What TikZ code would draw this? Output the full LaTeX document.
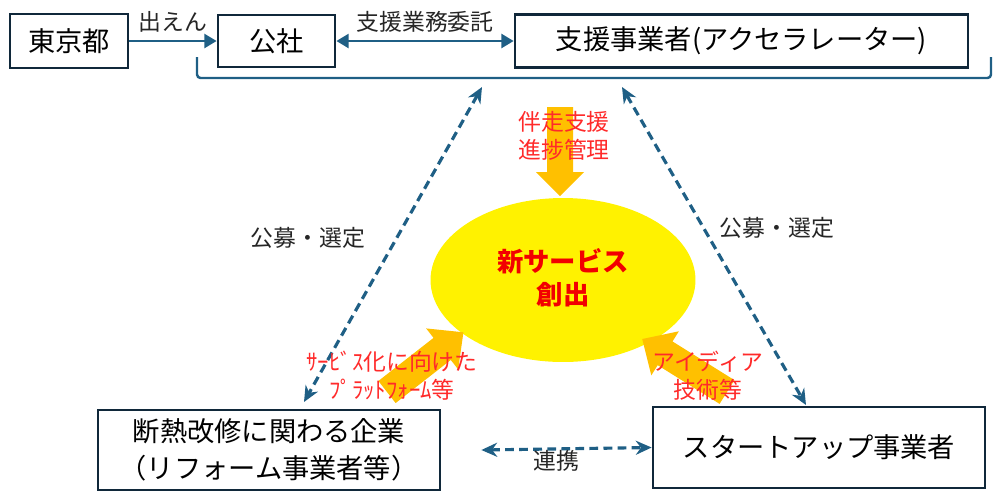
\documentclass[tikz,border=0pt]{standalone}
\usepackage{fontspec}
\setmainfont{Noto Sans CJK JP}
\usetikzlibrary{shapes.geometric,arrows.meta}
\definecolor{linkblue}{HTML}{1F5F85}
\definecolor{boxline}{HTML}{10283A}
\definecolor{pushorange}{HTML}{FFC000}
\definecolor{notered}{HTML}{FF2A2A}
\begin{document}
\begin{tikzpicture}[x=0.02cm,y=-0.02cm,
    party/.style={draw=boxline,line width=1.6pt,fill=white,align=center,inner sep=0pt,
      font=\fontsize{15.5}{21}\selectfont},
    flow/.style={draw=linkblue,line width=1.4pt,-{Triangle[length=7pt,width=8pt]}},
    twoway/.style={draw=linkblue,line width=1.4pt,{Triangle[length=7pt,width=8pt]}-{Triangle[length=7pt,width=8pt]}},
    tie/.style={draw=linkblue,line width=1.8pt,dash pattern=on 5pt off 3pt,
      {Stealth[length=9pt,width=8pt]}-{Stealth[length=9pt,width=8pt]}},
    note/.style={font=\fontsize{13}{16}\selectfont,text=black!85},
    rednote/.style={font=\fontsize{13}{16}\selectfont,text=notered,align=center},
    push/.style={fill=pushorange}]
\useasboundingbox (0,0) rectangle (1000,495);

% top row
\node[party,minimum width=2.36cm,minimum height=1.08cm] (tokyo) at (69,41) {東京都};
\node[party,minimum width=2.34cm,minimum height=1.04cm] (kosha) at (276.5,41) {公社};
\node[party,minimum width=9.06cm,minimum height=1.06cm] (accel) at (741.5,41) {支援事業者(アクセラレーター)};
\path[flow] (tokyo) -- node[note,above=1pt] {出えん} (kosha);
\path[twoway] (kosha) -- node[note,above=1pt] {支援業務委託} (accel);

% bracket under the top row
\coordinate (brl) at (197,57);
\coordinate (brr) at (991,57);
\draw[linkblue,line width=1.4pt,rounded corners=2pt] (brl) -- (197,78) -- (991,78) -- (brr);

% centre
\node[ellipse,fill=yellow,minimum width=5.3cm,minimum height=3.28cm] (core) at (563,280) {};
\node[font=\fontsize{15}{19}\selectfont\bfseries,text=red!95!black,align=center] (coretext) at (563,278) {新サービス\\創出};

% bottom row
\node[party,minimum width=6.84cm,minimum height=1.6cm] (reform) at (269,450) {断熱改修に関わる企業\\（リフォーム事業者等）};
\node[party,minimum width=6.64cm,minimum height=1.62cm] (startup) at (819,447.5) {スタートアップ事業者};

% dashed ties
\coordinate (lt) at (482,87);
\coordinate (lb) at (304,402);
\coordinate (rt) at (622,87);
\coordinate (rb) at (806,405);
\draw[tie] (lt) -- (lb);
\draw[tie] (rt) -- (rb);
\draw[tie] ([xshift=0.8cm]reform.east) -- (startup.west);
\node[note] (recruitl) at (308,238) {公募・選定};
\node[note] (recruitr) at (777,228) {公募・選定};
\node[note] (renkei) at (556,461) {連携};

% orange pushes into the centre
\fill[push,shift={(560,107)},rotate=-90] (0,-13) -- (65,-13) -- (65,-24) -- (89,0) -- (65,24) -- (65,13) -- (0,13) -- cycle;
\fill[push,shift={(387,392)},rotate=38] (0,-14) -- (70,-14) -- (70,-26) -- (97,0) -- (70,26) -- (70,14) -- (0,14) -- cycle;
\fill[push,shift={(727,392)},rotate=148] (0,-14) -- (73,-14) -- (73,-26) -- (100,0) -- (73,26) -- (73,14) -- (0,14) -- cycle;
\node[rednote] (topnote) at (564,136) {伴走支援\\進捗管理};
\node[rednote] (leftnote) at (392,376) {ｻｰﾋﾞｽ化に向けた\\ﾌﾟﾗｯﾄﾌｫｰﾑ等};
\node[rednote] (rightnote) at (708,376) {アイディア\\技術等};
\end{tikzpicture}
\end{document}
